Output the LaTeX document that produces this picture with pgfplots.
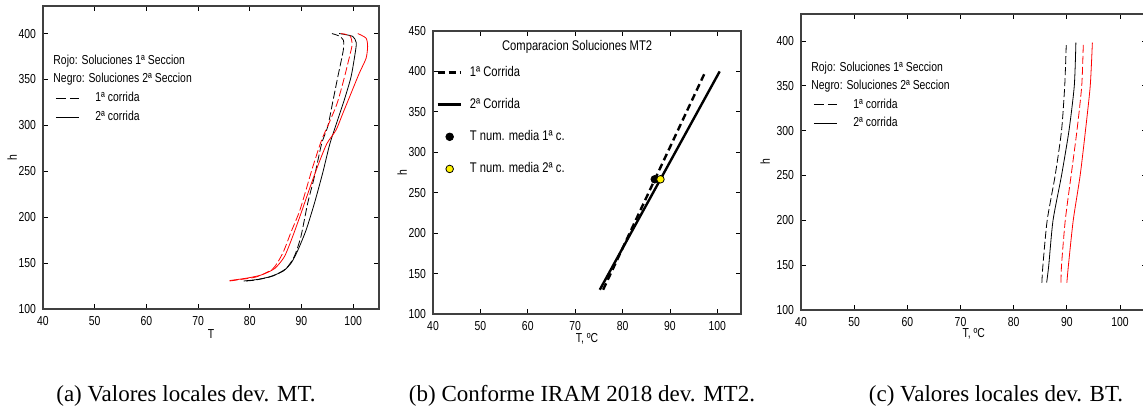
\documentclass[border=0pt]{standalone}
\usepackage{pgfplots}
\pgfplotsset{compat=1.18}
\usepackage{fontspec}
\setmainfont{Liberation Serif}
\newfontfamily\chartfont[FakeStretch=0.8]{Liberation Sans}
\newcommand\cf{\chartfont\fontsize{6.5}{7.5}\selectfont}
\newcommand\cfb{\chartfont\fontsize{7}{8}\selectfont}

\pgfplotsset{
  matlab/.style={
    scale only axis,
    xmin=40, xmax=105, ymin=100,
    xtick={40,50,...,100},
    tick align=inside,
    major tick length=2.5pt,
    axis line style={black!75, line width=0.6pt},
    every tick/.style={black, line width=0.4pt},
    tick label style={font=\cf},
    label style={font=\cf},
    /pgf/number format/assume math mode=true,
    legend cell align=left,
  },
  thinleg/.style={
    legend style={draw=none, fill=none, anchor=north west,
      inner sep=0pt, row sep=1.2pt, column sep=7pt,
      font=\cf, nodes={inner sep=1pt}},
  },
  lineleg/.style={legend image code/.code={\draw[##1] (0pt,0pt) -- (11.5pt,0pt);}},
  markleg/.style={legend image code/.code={\draw[##1] plot coordinates {(6pt,0pt)};}},
  dashA/.style={dash pattern=on 4pt off 1.5pt},
}

\begin{document}
\begin{tikzpicture}
\path[use as bounding box] (0,0) rectangle (571.5pt,205.5pt);

% (a)
\begin{axis}[matlab, thinleg,
  at={(21.5pt,51pt)}, anchor=south west,
  width=168pt, height=151.5pt,
  ymax=430, ytick={100,150,...,400},
  xlabel={T}, ylabel={h},
  xlabel shift=-4.5pt, ylabel shift=-6pt,
  legend style={at={(0.036,0.724)}},
]
\addplot[black, thin, dashA, smooth, tension=0.4, forget plot] coordinates {
 (79.3,130.5) (81.3,131.7) (84.5,136) (87.0,144) (88.6,157) (89.9,179)
 (91.2,215) (92.5,244) (93.9,280) (95.1,299) (96.0,324) (97.0,352)
 (98.1,382) (98.1,393) (97.2,397.5) (95.9,400)};
\addplot[black, thin, smooth, tension=0.4, forget plot] coordinates {
 (78.8,130.5) (81.3,132) (83.8,135) (86.4,141) (88.0,150) (89.3,164)
 (90.9,186) (92.5,215) (94.1,248) (95.5,280) (97.0,306) (98.3,328)
 (99.6,353) (100.4,379) (100.6,390) (99.9,397) (97.3,400)};
\addplot[red, thin, dashA, smooth, tension=0.4, forget plot] coordinates {
 (76.1,130.5) (78.0,132) (81.3,135) (84.5,144) (86.4,161) (88.0,184)
 (89.6,206) (90.9,230) (92.2,255) (93.9,284) (95.3,302) (96.9,324)
 (98.2,350) (99.3,375) (99.8,388) (99.4,397.5) (97.7,400)};
\addplot[red, thin, smooth, tension=0.4, forget plot] coordinates {
 (76.1,131) (79.3,133.5) (82.2,137) (84.8,144) (86.7,157) (88.3,179)
 (89.9,204) (91.5,230) (93.1,255) (94.9,280) (96.7,295) (98.0,313)
 (99.6,335) (101.2,357) (102.5,373) (102.8,386) (102.5,395) (100.9,400)};
\addlegendimage{black, thin, dash pattern=on 5pt off 2pt, lineleg}
\addlegendentry{1ª corrida}
\addlegendimage{black, thin, lineleg}
\addlegendentry{2ª corrida}
\node[anchor=west, font=\cf, inner sep=0pt] at (rel axis cs:0.03,0.818) {Rojo: Soluciones 1ª Seccion};
\node[anchor=west, font=\cf, inner sep=0pt] at (rel axis cs:0.03,0.759) {Negro: Soluciones 2ª Seccion};
\end{axis}

% (b)
\begin{axis}[matlab,
  at={(216.5pt,48.5pt)}, anchor=south west,
  width=154pt, height=141.5pt,
  ymax=450, ytick={100,150,...,450},
  xlabel={T, ºC}, ylabel={h},
  xlabel shift=-5.5pt, ylabel shift=-6pt,
  legend style={draw=none, fill=none, at={(0.01,0.885)}, anchor=north west,
    inner sep=0pt, row sep=7.5pt, column sep=3pt, font=\cfb, nodes={inner sep=1pt}},
]
\addplot[black, line width=1.2pt, dash pattern=on 3.5pt off 2pt, lineleg] coordinates {(75.9,130) (97.35,398)};
\addlegendentry{1ª Corrida}
\addplot[black, line width=1.2pt, lineleg] coordinates {(75.2,130) (100.5,400)};
\addlegendentry{2ª Corrida}
\addplot[only marks, mark=*, mark size=1.9pt, black, markleg] coordinates {(86.8,266.6)};
\addlegendentry{T num. media 1ª c.}
\addplot[only marks, mark=*, mark size=1.9pt, draw=black, fill=yellow,
  mark options={line width=0.4pt}, markleg] coordinates {(88.0,266.6)};
\addlegendentry{T num. media 2ª c.}
\node[font=\cfb] at (rel axis cs:0.468,0.943) {Comparacion Soluciones MT2};
\end{axis}

% (c)
\begin{axis}[matlab, thinleg,
  at={(400.5pt,50.5pt)}, anchor=south west,
  width=172.8pt, height=148pt,
  ymax=430, ytick={100,150,...,400},
  xlabel={T, ºC}, ylabel={h},
  xlabel shift=-6pt, ylabel shift=-3.5pt,
  legend style={at={(0.035,0.722)}},
]
\addplot[black, thin, dashA, smooth, tension=0.4, forget plot] coordinates {
 (85.3,130.5) (85.5,150) (86.3,200) (87.8,250) (89.0,300) (89.6,350) (89.9,398)};
\addplot[black, thin, smooth, tension=0.4, forget plot] coordinates {
 (86.2,130.5) (86.6,150) (87.4,200) (89.0,250) (90.4,300) (91.4,350) (91.7,398)};
\addplot[red, thin, dashA, smooth, tension=0.4, forget plot] coordinates {
 (88.9,130.5) (89.0,150) (89.7,200) (90.8,250) (91.9,300) (92.8,350) (93.1,398)};
\addplot[red, thin, smooth, tension=0.4, forget plot] coordinates {
 (90.0,130.5) (90.3,150) (91.2,200) (92.5,250) (93.5,300) (94.4,350) (94.8,398)};
\addlegendimage{black, thin, dash pattern=on 5pt off 2pt, lineleg}
\addlegendentry{1ª corrida}
\addlegendimage{black, thin, lineleg}
\addlegendentry{2ª corrida}
\node[anchor=west, font=\cf, inner sep=0pt] at (rel axis cs:0.029,0.818) {Rojo: Soluciones 1ª Seccion};
\node[anchor=west, font=\cf, inner sep=0pt] at (rel axis cs:0.029,0.757) {Negro: Soluciones 2ª Seccion};
\end{axis}

% captions
\node[anchor=base, font=\fontsize{11.5}{13}\selectfont] at (93pt,4.5pt) {(a) Valores locales dev. MT.};
\node[anchor=base, font=\fontsize{11.5}{13}\selectfont] at (291pt,4.5pt) {(b) Conforme IRAM 2018 dev. MT2.};
\node[anchor=base, font=\fontsize{11.5}{13}\selectfont] at (498pt,4.5pt) {(c) Valores locales dev. BT.};
\end{tikzpicture}
\end{document}
